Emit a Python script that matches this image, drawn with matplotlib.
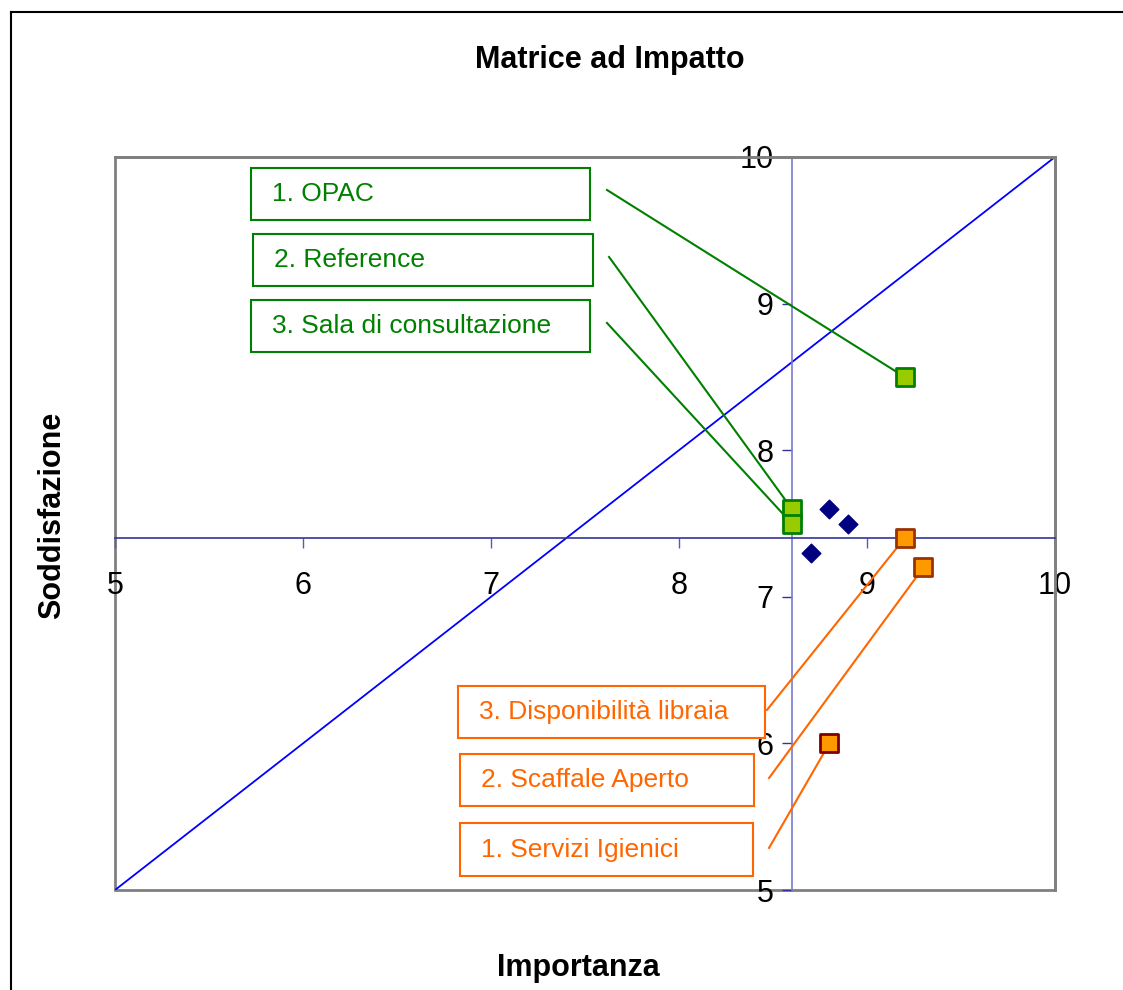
import matplotlib
matplotlib.use("Agg")
import matplotlib.pyplot as plt
from matplotlib.patches import Rectangle
from matplotlib.lines import Line2D

plt.rcParams['font.family'] = ['Liberation Sans', 'DejaVu Sans']

# data
green_imp = [9.2, 8.6, 8.6]
green_sod = [8.5, 7.6, 7.5]
green_labels = ["1. OPAC", "2. Reference", "3. Sala di consultazione"]

blue_imp = [8.8, 8.9, 8.7]
blue_sod = [7.6, 7.5, 7.3]

orange_imp = [9.2, 9.3, 8.8]
orange_sod = [7.4, 7.2, 6.0]
orange_labels = ["3. Disponibilità libraia", "2. Scaffale Aperto", "1. Servizi Igienici"]

mean_imp = 8.6
mean_sod = 7.4
ticks = [5, 6, 7, 8, 9, 10]

# layout of the callout boxes: (x0, x1, y0, y1) and line start points
green_boxes = [(5.723, 7.527, 9.570, 9.925), (5.734, 7.543, 9.120, 9.475), (5.723, 7.527, 8.670, 9.025)]
green_starts = [(7.617, 9.775), (7.628, 9.318), (7.617, 8.868)]
orange_boxes = [(6.824, 8.457, 6.037, 6.392), (6.835, 8.399, 5.573, 5.928), (6.835, 8.394, 5.095, 5.457)]
orange_starts = [(8.468, 6.228), (8.479, 5.764), (8.479, 5.287)]

W, H = 1123, 990
fig = plt.figure(figsize=(W / 100, H / 100), dpi=100)
ax = fig.add_axes([115 / W, 1 - 890 / H, 940 / W, 733 / H])
ax.set_xlim(5, 10)
ax.set_ylim(5, 10)

# outer chart border
fig.add_artist(Line2D([11 / W, 11 / W], [0, 1 - 12 / H], color='black', lw=1.5))
fig.add_artist(Line2D([11 / W, 1], [1 - 12 / H, 1 - 12 / H], color='black', lw=1.5))

# plot area frame
for s in ['top', 'right']:
    ax.spines[s].set_color('#808080')
    ax.spines[s].set_linewidth(2)
ax.add_patch(Rectangle((0, 0), 1, 1, transform=ax.transAxes, fill=False,
                       edgecolor='#808080', lw=2, zorder=0.5, clip_on=False))

# crossing axes at the means
ax.spines['left'].set_position(('data', mean_imp))
ax.spines['bottom'].set_position(('data', mean_sod))
ax.spines['left'].set_color('#7a7ad0')
ax.spines['bottom'].set_color('#333399')
ax.spines['left'].set_linewidth(1.2)
ax.spines['bottom'].set_linewidth(1.2)
ax.set_xticks(ticks)
ax.set_yticks(ticks)
ax.tick_params(axis='x', direction='out', length=7, width=1, color='#5a5ab8',
               labelsize=22, pad=17)
ax.tick_params(axis='y', direction='out', length=7, width=1, color='#333399',
               labelsize=22, pad=6)

# diagonal
ax.plot([5, 10], [5, 10], color='#0000ff', lw=1.3, zorder=2)

# callout lines
for (sx, sy), x, y in zip(green_starts, green_imp, green_sod):
    ax.plot([sx, x], [sy, y], color='#008000', lw=1.5, zorder=3)
for (sx, sy), x, y in zip(orange_starts, orange_imp, orange_sod):
    ax.plot([sx, x], [sy, y], color='#ff6600', lw=1.5, zorder=3)

# points
ax.scatter(blue_imp, blue_sod, marker='D', s=90, color='#000080', zorder=4)
ax.scatter(green_imp, green_sod, marker='s', s=160, facecolor='#99cc00',
           edgecolor='#008000', linewidth=2, zorder=4)
ax.scatter(orange_imp[:2], orange_sod[:2], marker='s', s=160, facecolor='#ff9900',
           edgecolor='#993300', linewidth=2, zorder=4)
ax.scatter(orange_imp[2:], orange_sod[2:], marker='s', s=160, facecolor='#ff9900',
           edgecolor='#800000', linewidth=2, zorder=4)

# callout boxes
for (x0, x1, y0, y1), lab in zip(green_boxes, green_labels):
    ax.add_patch(Rectangle((x0, y0), x1 - x0, y1 - y0, fill=True, facecolor='white',
                           edgecolor='#008000', lw=1.5, zorder=5))
    ax.text(x0 + 0.11, (y0 + y1) / 2, lab, color='#008000', fontsize=19,
            va='center', ha='left', zorder=6)
for (x0, x1, y0, y1), lab in zip(orange_boxes, orange_labels):
    ax.add_patch(Rectangle((x0, y0), x1 - x0, y1 - y0, fill=True, facecolor='white',
                           edgecolor='#ff6600', lw=1.5, zorder=5))
    ax.text(x0 + 0.11, (y0 + y1) / 2, lab, color='#ff6600', fontsize=19,
            va='center', ha='left', zorder=6)

fig.text(610 / W, 1 - 60 / H, "Matrice ad Impatto", fontsize=22, fontweight='bold',
         ha='center', va='center')
fig.text(578 / W, 1 - 968 / H, "Importanza", fontsize=22, fontweight='bold',
         ha='center', va='center')
fig.text(52 / W, 1 - 515 / H, "Soddisfazione", fontsize=22, fontweight='bold',
         ha='center', va='center', rotation=90)

fig.savefig("out.png", dpi=100)
